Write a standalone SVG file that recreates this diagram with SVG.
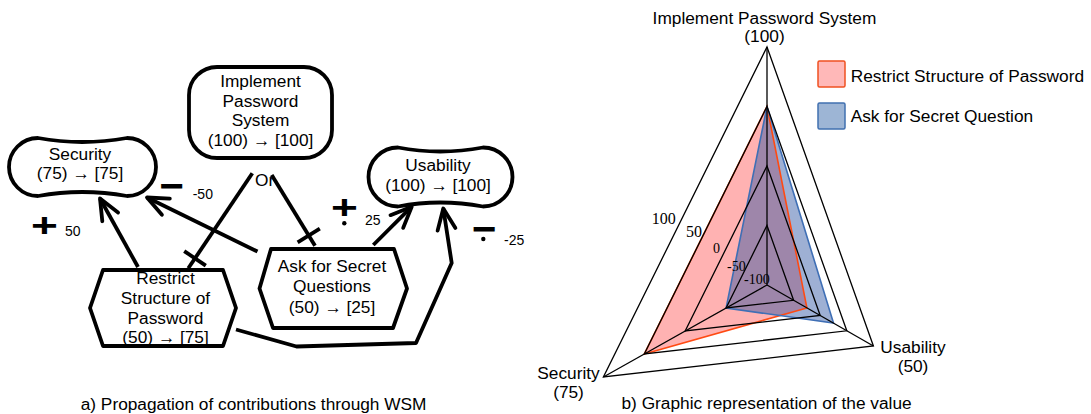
<svg xmlns="http://www.w3.org/2000/svg" width="1091" height="414" viewBox="0 0 1091 414">
<style>
.t{font-family:"Liberation Sans",Arial,sans-serif;font-size:17.3px;fill:#000;text-anchor:middle}
.tl{font-family:"Liberation Sans",Arial,sans-serif;font-size:17.3px;fill:#000}
.n{font-family:"Liberation Sans",Arial,sans-serif;font-size:14px;fill:#000}
.s{font-family:"Liberation Serif","Times New Roman",serif;fill:#000}
.sym{font-family:"Liberation Sans",Arial,sans-serif;font-weight:bold;fill:#000;text-anchor:middle}
.shape{fill:#fff;stroke:#000;stroke-width:3.8;stroke-linejoin:round}
.conn{fill:none;stroke:#000;stroke-width:3.8;stroke-linejoin:round}
.ring{fill:none;stroke:#000;stroke-width:1.3;stroke-linejoin:miter}
</style>
<defs>
<marker id="arr" markerUnits="userSpaceOnUse" viewBox="-24 -12 28 24" refX="0" refY="0" markerWidth="28" markerHeight="24" orient="auto" overflow="visible">
<path d="M-21,-9 L0,0 L-21,9" fill="none" stroke="#000" stroke-width="3.8" stroke-linejoin="round" stroke-linecap="round"/>
</marker>
<marker id="bar" markerUnits="userSpaceOnUse" viewBox="-20 -16 24 32" refX="0" refY="0" markerWidth="24" markerHeight="32" orient="auto" overflow="visible">
<path d="M-12,-13 L-12,13" fill="none" stroke="#000" stroke-width="3.8"/>
</marker>
</defs>

<!-- connectors (left diagram) -->
<g id="connectors">
<line class="conn" x1="138" y1="267" x2="100" y2="198.5" marker-end="url(#arr)"/>
<line class="conn" x1="257.5" y1="251.5" x2="147" y2="197.5" marker-end="url(#arr)"/>
<line class="conn" x1="373.3" y1="245" x2="411.7" y2="206.7" marker-end="url(#arr)"/>
<polyline class="conn" points="236,329.5 296.5,346.5 416,343 451.7,263 443.3,208.5" marker-end="url(#arr)"/>
<line class="conn" x1="252.3" y1="173.3" x2="188.3" y2="268.3" marker-end="url(#bar)"/>
<line class="conn" x1="271.7" y1="175" x2="315" y2="245.7" marker-end="url(#bar)"/>
<text class="tl" x="255" y="186">Or</text>
<text class="sym" font-size="40" transform="translate(44.5 225) scale(1.15 0.85)" x="0" y="14">+</text>
<text class="n" x="65" y="236">50</text>
<text class="sym" font-size="42" x="171.5" y="199.5">−</text>
<text class="n" x="192.7" y="199">-50</text>
<text class="sym" font-size="40" transform="translate(344.5 207.5) scale(1.15 0.85)" x="0" y="14">+</text>
<circle cx="344.3" cy="223.3" r="2.2" fill="#000"/>
<text class="n" x="365" y="225">25</text>
<text class="sym" font-size="42" x="484" y="242.5">−</text>
<circle cx="483.3" cy="239" r="2.2" fill="#000"/>
<text class="n" x="504" y="245">-25</text>
</g>

<g id="node-security">
<path class="shape" d="M38,138 Q82,146 127,138 A29,29 0 0 1 127,196 Q82,188 38,196 A29,29 0 0 1 38,138 Z"/>
<text class="t" x="80" y="159.5">Security</text>
<text class="t" x="80" y="178.5">(75) → [75]</text>
</g>

<g id="node-usability">
<path class="shape" d="M398,147.5 Q440,155.5 483,147.5 A29.5,29.5 0 0 1 483,206.5 Q440,198.5 398,206.5 A29.5,29.5 0 0 1 398,147.5 Z"/>
<text class="t" x="438" y="171">Usability</text>
<text class="t" x="438" y="190.7">(100) → [100]</text>
</g>

<g id="node-implement">
<rect class="shape" x="189" y="67" width="143" height="91" rx="28" ry="28"/>
<text class="t" x="260.5" y="86.7">Implement</text>
<text class="t" x="260.5" y="106.5">Password</text>
<text class="t" x="260.5" y="126.3">System</text>
<text class="t" x="260.5" y="146">(100) → [100]</text>
</g>

<g id="node-restrict">
<polygon class="shape" points="103,270 223,270 236,308 223,346 103,346 90,308"/>
<text class="t" x="165.5" y="284.3">Restrict</text>
<text class="t" x="165.5" y="304.3">Structure of</text>
<text class="t" x="165.5" y="324.3">Password</text>
<text class="t" x="165.5" y="343.3">(50) → [75]</text>
</g>

<g id="node-ask">
<polygon class="shape" points="271,249 394,249 407,288.5 393,328 273,328 259.5,288.5"/>
<text class="t" x="332" y="271.7">Ask for Secret</text>
<text class="t" x="332" y="292.3">Questions</text>
<text class="t" x="332" y="312.7">(50) → [25]</text>
</g>

<text class="tl" x="80.7" y="410">a) Propagation of contributions through WSM</text>

<!-- radar chart -->
<g id="radar">
<polygon points="767,106.5 806.9,307.9 644.3,354" fill="rgb(255,178,178)" stroke="none"/>
<polygon points="767,106.5 833.5,323.1 726.1,308" fill="rgba(40,80,160,0.45)" stroke="none"/>
<polygon points="767,106.5 806.9,307.9 644.3,354" fill="none" stroke="#FF4A12" stroke-width="1.6"/>
<polygon points="767,106.5 833.5,323.1 726.1,308" fill="none" stroke="#3F6FB5" stroke-width="1.6"/>
<polygon class="ring" points="767,225.5 793.6,300.3 726.1,308"/>
<polygon class="ring" points="767,166 820.2,315.5 685.2,331"/>
<polygon class="ring" points="767,106.5 846.8,330.8 644.3,354"/>
<polygon class="ring" points="767,47 873.4,346 603.4,377"/>
<line class="ring" x1="767" y1="285" x2="767" y2="47"/>
<line class="ring" x1="767" y1="285" x2="873.4" y2="346"/>
<line class="ring" x1="767" y1="285" x2="603.4" y2="377"/>
<text class="s" font-size="16" x="651.7" y="224.3">100</text>
<text class="s" font-size="16" x="686" y="236.7">50</text>
<text class="s" font-size="14" x="713" y="253.3">0</text>
<text class="s" font-size="14" x="727" y="271">-50</text>
<text class="s" font-size="14" x="744" y="284.3">-100</text>
<text class="t" x="764.5" y="24">Implement Password System</text>
<text class="t" x="764.5" y="42">(100)</text>
<text class="t" x="913" y="353">Usability</text>
<text class="t" x="913" y="372">(50)</text>
<text class="t" x="568.5" y="378.5">Security</text>
<text class="t" x="568.5" y="397.5">(75)</text>
</g>

<g id="legend">
<rect x="818" y="61" width="27" height="26" rx="1.5" fill="#FFB8B8" stroke="#F05020" stroke-width="1.5"/>
<text class="tl" x="850.7" y="81.7">Restrict Structure of Password</text>
<rect x="818" y="103" width="27" height="26" rx="1.5" fill="#9DB5D5" stroke="#4070B0" stroke-width="1.5"/>
<text class="tl" x="850.7" y="122">Ask for Secret Question</text>
</g>

<text class="tl" x="621.5" y="409">b) Graphic representation of the value</text>
</svg>
